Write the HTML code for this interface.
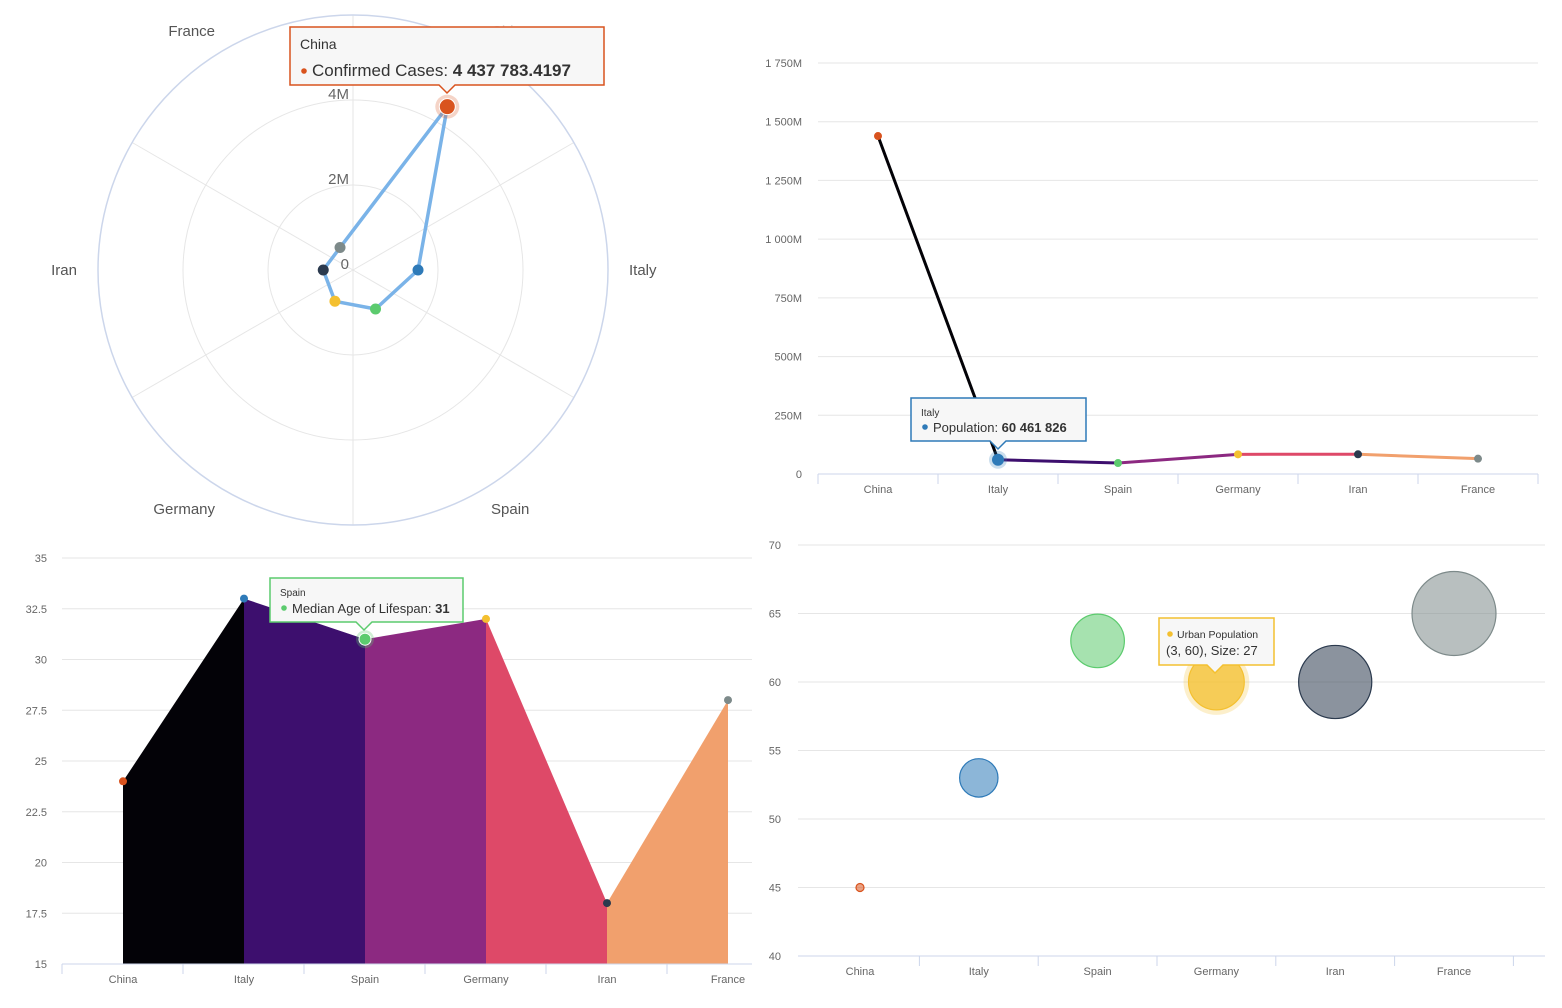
<!DOCTYPE html>
<html><head><meta charset="utf-8"><style>
body{margin:0;background:#fff;font-family:"Liberation Sans",sans-serif;}
svg{position:absolute;left:0;top:0}
text{font-family:"Liberation Sans",sans-serif;}
</style></head><body>
<svg id="s" width="1562" height="1008" viewBox="0 0 1562 1008"></svg>
<script>
const categories=["China","Italy","Spain","Germany","Iran","France"];
const colors=["#d9531e","#2e7ab8","#5ccb6e","#f4c030","#2b3a4e","#7d8a8a"];
const confirmedCases=[4437783,1530000,1060000,850000,700000,610000];
const radarTicks=[0,2,4];
const population=[1439,60.46,46.75,83.78,83.99,65.27];
const popTicks=[0,250,500,750,1000,1250,1500,1750];
const popTickLabels=["0","250M","500M","750M","1 000M","1 250M","1 500M","1 750M"];
const medianAge=[24,33,31,32,18,28];
const ageTicks=[15,17.5,20,22.5,25,27.5,30,32.5,35];
const urbanPop=[45,53,63,60,60,65];
const bubbleSize=[5,19,26,27,35,40];
const bubbleTicks=[40,45,50,55,60,65,70];
const segColors=["#030207","#3d0f6e","#8c2981","#de4968","#f1a06d"];

const S=document.getElementById('s');
const NS="http://www.w3.org/2000/svg";
function el(t,a,p){const e=document.createElementNS(NS,t);for(const k in a)e.setAttribute(k,a[k]);(p||S).appendChild(e);return e;}
function tx(x,y,s,a,p){const e=el('text',a,p);e.setAttribute('x',x);e.setAttribute('y',y);e.textContent=s;return e;}

/* ---------- Radar ---------- */
const g1=el('g',{});


const cx=353,cy=270,R=255,rMax=6000000;
const rs=v=>v/rMax*R;
[2,4].forEach(m=>{const c=el('circle',{cx,cy,r:rs(m*1e6),fill:'none',stroke:'#e6e6e6'},g1);
});
for(let i=0;i<6;i++){const a=i*Math.PI/3;const l=el('line',{x1:cx,y1:cy,x2:cx+R*Math.sin(a),y2:cy-R*Math.cos(a),stroke:'#e6e6e6'},g1);
}
const oc=el('circle',{cx,cy,r:R,fill:'none',stroke:'#ccd6eb','stroke-width':1.5},g1);

radarTicks.forEach(m=>{const t=tx(cx-4,cy-rs(m*1e6)-1,m===0?'0':m+'M',{'font-size':15,fill:'#666','text-anchor':'end'},g1);
});
const ang=i=>(30+60*i)*Math.PI/180;
categories.forEach((c,i)=>{const a=ang(i),rr=276;const sn=Math.sin(a);
const t=tx(cx+rr*sn,cy-rr*Math.cos(a)+5,c,{'font-size':15,fill:i===0?'#ddd':'#555','text-anchor':sn>0?'start':'end'},g1);
});
const rp=confirmedCases.map((v,i)=>[cx+rs(v)*Math.sin(ang(i)),cy-rs(v)*Math.cos(ang(i))]);
const poly=el('polygon',{points:rp.map(p=>p.join(',')).join(' '),fill:'none',stroke:'#7ab3e8','stroke-width':3.5,'stroke-linejoin':'round'},g1);

rp.forEach((p,i)=>{if(i===0){el('circle',{cx:p[0],cy:p[1],r:12,fill:colors[0],opacity:0.25},g1);}
const c=el('circle',{cx:p[0],cy:p[1],r:i===0?8:5.5,fill:colors[i],stroke:i===0?'#fff':'none'},g1);
});

function tooltip(x,y,w,h,col,title,label,val,fs,tfs,ax,parent,name){
 const g=el('g',{},parent);
 
 el('path',{d:`M${x} ${y}h${w}v${h}H${ax+8}l-8 8l-8 -8H${x}Z`,fill:'#f7f7f7',stroke:col,'stroke-width':1.5},g);
 tx(x+10,y+tfs+8,title,{'font-size':tfs,fill:'#333'},g);
 el('circle',{cx:x+14,cy:y+h-14,r:2.8,fill:col},g);
 const t=tx(x+22,y+h-9,label,{'font-size':fs,fill:'#333'},g);
 const b=el('tspan',{'font-weight':'bold'},t);b.textContent=val;
 return g;}
tooltip(290,27,314,58,colors[0],'China','Confirmed Cases: ','4 437 783.4197',17,14,447,g1,'radar-tooltip');

/* ---------- Population line ---------- */
const g2=el('g',{});


const px0=818,pw=720,py0=474,ph=411,pmax=1750;
const xP=i=>px0+pw/6*(i+0.5), yP=v=>py0-v/pmax*ph;
popTicks.forEach((v,i)=>{if(v>0){const l=el('line',{x1:px0,x2:px0+pw,y1:yP(v),y2:yP(v),stroke:'#e6e6e6'},g2);
}
const t=tx(802,yP(v)+4,popTickLabels[i],{'font-size':11,fill:'#666','text-anchor':'end'},g2);
});
el('line',{x1:px0,x2:px0+pw,y1:py0,y2:py0,stroke:'#ccd6eb'},g2);
for(let i=0;i<=6;i++)el('line',{x1:px0+pw/6*i,x2:px0+pw/6*i,y1:py0,y2:py0+10,stroke:'#ccd6eb'},g2);
categories.forEach((c,i)=>{const t=tx(xP(i),493,c,{'font-size':11,fill:'#666','text-anchor':'middle'},g2);
});
for(let i=0;i<5;i++){const l=el('line',{x1:xP(i),y1:yP(population[i]),x2:xP(i+1),y2:yP(population[i+1]),stroke:segColors[i],'stroke-width':3,'stroke-linecap':'round'},g2);
}
population.forEach((v,i)=>{if(i===1)el('circle',{cx:xP(i),cy:yP(v),r:9,fill:colors[1],opacity:0.25},g2);
const c=el('circle',{cx:xP(i),cy:yP(v),r:i===1?6:4,fill:colors[i]},g2);
});
tooltip(911,398,175,43,colors[1],'Italy','Population: ','60 461 826',13,10,998,g2,'population-tooltip');

/* ---------- Median age area ---------- */
const g3=el('g',{});


const ax0=62,aw=690,ay0=964,ah=406,amin=15,amax=35;
const xA=i=>123+121*i, yA=v=>ay0-(v-amin)/(amax-amin)*ah;
ageTicks.forEach(v=>{if(v>amin){const l=el('line',{x1:ax0,x2:ax0+aw,y1:yA(v),y2:yA(v),stroke:'#e6e6e6'},g3);
}
const t=tx(47,yA(v)+4,String(v),{'font-size':11,fill:'#666','text-anchor':'end'},g3);
});
for(let i=0;i<5;i++){const p=el('polygon',{points:`${xA(i)},${ay0} ${xA(i)},${yA(medianAge[i])} ${xA(i+1)},${yA(medianAge[i+1])} ${xA(i+1)},${ay0}`,fill:segColors[i]},g3);
}
el('line',{x1:ax0,x2:ax0+aw,y1:ay0,y2:ay0,stroke:'#ccd6eb'},g3);
for(let i=0;i<=5;i++)el('line',{x1:ax0+121*i,x2:ax0+121*i,y1:ay0,y2:ay0+10,stroke:'#ccd6eb'},g3);
categories.forEach((c,i)=>{const t=tx(xA(i),983,c,{'font-size':11,fill:'#666','text-anchor':'middle'},g3);
});
medianAge.forEach((v,i)=>{if(i===2)el('circle',{cx:xA(i),cy:yA(v),r:9,fill:colors[2],opacity:0.3},g3);
const c=el('circle',{cx:xA(i),cy:yA(v),r:i===2?6:4,fill:colors[i],stroke:i===2?'#fff':'none'},g3);
});
tooltip(270,578,193,44,colors[2],'Spain','Median Age of Lifespan: ','31',13,10,364,g3,'age-tooltip');

/* ---------- Bubble ---------- */
const g4=el('g',{});


const bx0=798,bw=747,by0=956,bh=411,bmin=40,bmax=70;
const xB=i=>860+118.8*i, yB=v=>by0-(v-bmin)/(bmax-bmin)*bh;
const rB=s=>4+(s-5)/35*38;
bubbleTicks.forEach(v=>{if(v>bmin){const l=el('line',{x1:bx0,x2:bx0+bw,y1:yB(v),y2:yB(v),stroke:'#e6e6e6'},g4);
}
const t=tx(781,yB(v)+4,String(v),{'font-size':11,fill:'#666','text-anchor':'end'},g4);
});
el('line',{x1:bx0,x2:bx0+bw,y1:by0,y2:by0,stroke:'#ccd6eb'},g4);
for(let i=1;i<=6;i++)el('line',{x1:xB(i)-59.4,x2:xB(i)-59.4,y1:by0,y2:by0+10,stroke:'#ccd6eb'},g4);
categories.forEach((c,i)=>{const t=tx(xB(i),975,c,{'font-size':11,fill:'#666','text-anchor':'middle'},g4);
});
urbanPop.forEach((v,i)=>{const r=rB(bubbleSize[i]);
if(i===3)el('circle',{cx:xB(i),cy:yB(v),r:r+5,fill:colors[3],opacity:0.25},g4);
const c=el('circle',{cx:xB(i),cy:yB(v),r,fill:colors[i],'fill-opacity':i===3?0.75:0.55,stroke:colors[i],'stroke-width':1.2},g4);
});
const tb=el('g',{},g4);

el('path',{d:`M1159 618h115v47H1223l-8 8l-8 -8H1159Z`,fill:'#f7f7f7',stroke:colors[3],'stroke-width':1.5},tb);
el('circle',{cx:1170,cy:634,r:2.8,fill:colors[3]},tb);
tx(1177,638,'Urban Population',{'font-size':10.5,fill:'#333'},tb);
tx(1166,655,'(3, 60), Size: 27',{'font-size':13,fill:'#333'},tb);
</script>
</body></html>
